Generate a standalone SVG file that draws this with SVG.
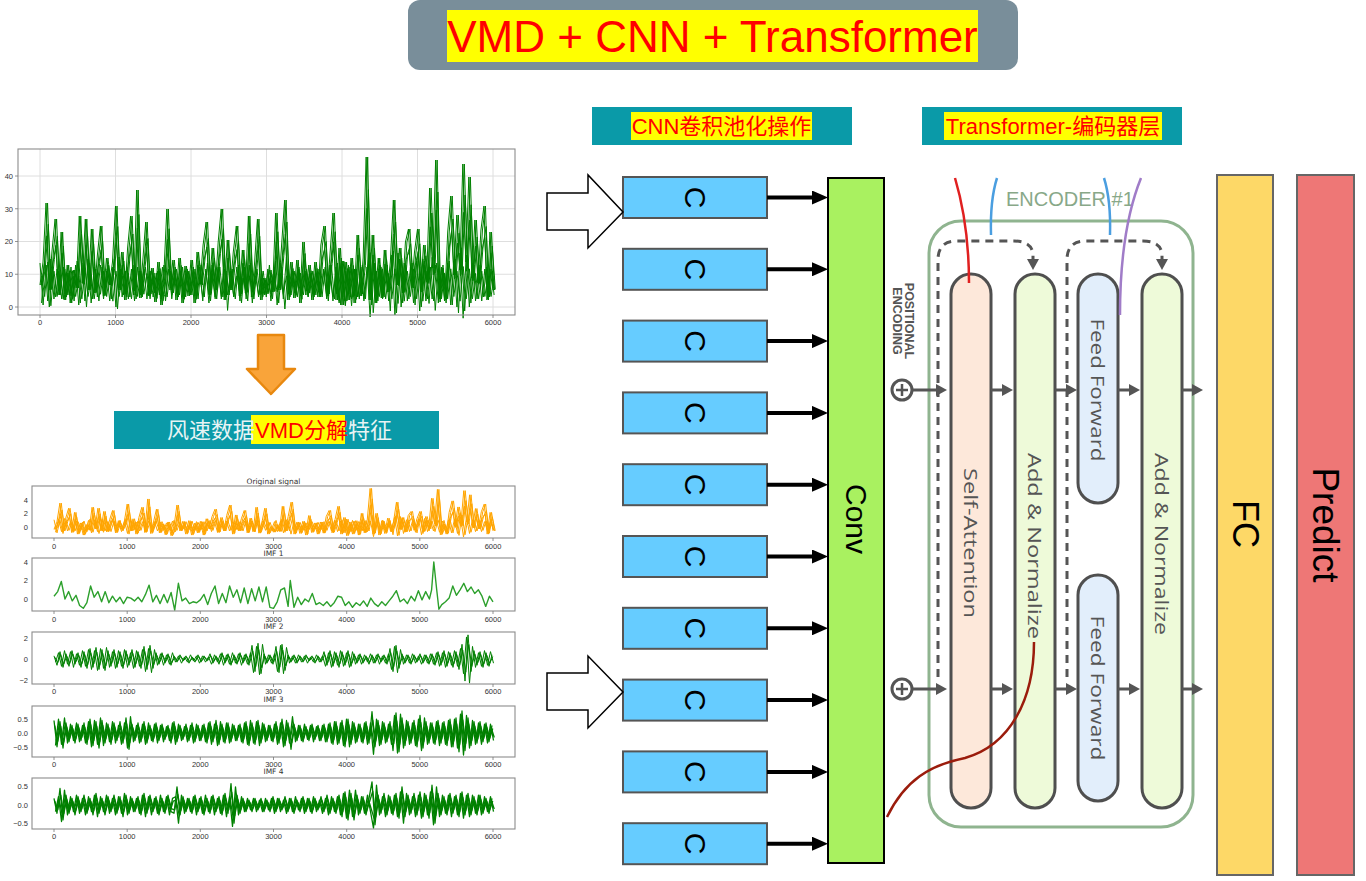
<svg xmlns="http://www.w3.org/2000/svg" width="1366" height="881" viewBox="0 0 1366 881">
<style>
text{font-family:"Liberation Sans","Noto Sans CJK SC",sans-serif}
.tk{font-family:"DejaVu Sans",sans-serif;font-size:7.5px;fill:#333}
.ax{fill:none;stroke:#8c8c8c;stroke-width:1.1}
.grid{stroke:#dedede;stroke-width:1;fill:none}
.tick{stroke:#777;stroke-width:0.8;fill:none}
.sig{fill:none;vector-effect:non-scaling-stroke;stroke-linejoin:round}
.hdr{fill:#0a9aa8}
.hl{fill:#ffff00}
.cbox{fill:#66ccff;stroke:#555;stroke-width:2}
.rot{text-anchor:middle;dominant-baseline:central;fill:#000}
.conn{stroke:#000;stroke-width:4;fill:none}
.hollow{fill:#fff;stroke:#000;stroke-width:1.5}
.pill{stroke:#4f4f4f;stroke-width:3}
.plabel{font-family:"Open Sans","Noto Sans",sans-serif;font-size:19px;fill:#555;text-anchor:middle;dominant-baseline:central}
.garr{stroke:#555;stroke-width:3;fill:none}
.dash{stroke:#555;stroke-width:3;fill:none;stroke-dasharray:8 6}
</style>
<defs>
<marker id="ah" markerUnits="userSpaceOnUse" viewBox="0 0 16 14" markerWidth="16" markerHeight="14" refX="6" refY="7" orient="auto"><path d="M0,0 L16,7 L0,14 z" fill="#000"/></marker>
<marker id="gh" markerUnits="userSpaceOnUse" viewBox="0 0 11 12" markerWidth="11" markerHeight="12" refX="3" refY="6" orient="auto"><path d="M0,0 L11,6 L0,12 z" fill="#555"/></marker>
<polyline id="wind" class="sig" points="40,285 43,262 46,203 49,290 52,250 55,219 58,295 61,232 64,300 67,265 70,303 73,270 76,288 79,216 82,283 85,219 88,290 91,229 94,293 97,255 100,226 103,296 106,258 109,285 112,262 115,206 118,290 121,252 124,300 127,248 130,216 133,295 136,190 139,298 142,262 145,222 148,296 151,268 154,302 157,262 160,305 163,275 166,209 169,290 172,260 175,300 178,258 181,303 184,266 187,296 190,260 193,303 196,252 199,284 202,245 205,222 208,295 211,248 214,290 217,242 220,209 223,300 226,240 229,290 232,252 235,226 238,296 241,250 244,293 247,216 250,297 253,265 256,219 259,300 262,278 265,294 268,270 271,292 274,213 277,290 280,245 283,200 286,300 289,262 292,298 295,260 298,303 301,242 304,295 307,265 310,300 313,262 316,297 319,245 322,226 325,296 328,255 331,213 334,300 337,248 340,305 343,262 346,300 349,258 352,303 355,235 358,296 361,258 364,157 367,300 370,235 373,303 376,258 379,298 382,250 385,292 388,262 391,200 394,285 397,248 400,293 403,242 406,229 409,288 412,252 415,229 418,292 421,245 424,282 427,188 430,268 433,160 436,302 439,268 442,300 445,232 448,196 451,275 454,215 457,270 460,164 463,262 466,177 469,278 472,220 475,283 478,230 481,206 484,300 487,232 490,290"/>
<polyline id="n3" class="sig" transform="translate(54,733) scale(3,-0.25)" points="0,50 1,-55 2,45 3,-60 4,40 5,-35 6,30 7,-40 8,35 9,-30 10,40 11,-45 12,55 13,-50 14,45 15,-60 16,50 17,-40 18,35 19,-45 20,40 21,-30 22,45 23,-40 24,60 25,-65 26,35 27,-30 28,40 29,-35 30,45 31,-40 32,30 33,-35 34,40 35,-30 36,35 37,-25 38,30 39,-40 40,45 41,-35 42,30 43,-25 44,35 45,-30 46,40 47,-35 48,30 49,-30 50,35 51,-40 52,45 53,-35 54,50 55,-45 56,35 57,-40 58,40 59,-35 60,30 61,-30 62,35 63,-40 64,45 65,-50 66,40 67,-45 68,50 69,-40 70,35 71,-30 72,30 73,-35 74,45 75,-40 76,55 77,-50 78,40 79,-65 80,35 81,-30 82,30 83,-35 84,25 85,-30 86,35 87,-25 88,30 89,-30 90,35 91,-35 92,40 93,-45 94,45 95,-40 96,50 97,-55 98,55 99,-45 100,40 101,-35 102,35 103,-40 104,45 105,-40 106,85 107,-55 108,50 109,-45 110,40 111,-35 112,45 113,-70 114,80 115,-75 116,60 117,-50 118,45 119,-40 120,50 121,-55 122,70 123,-60 124,45 125,-40 126,40 127,-45 128,50 129,-40 130,45 131,-50 132,55 133,-55 134,60 135,-75 136,88 137,-70 138,60 139,-50 140,45 141,-40 142,45 143,-35 144,40 145,-35 146,30"/>
<polyline id="n4" class="sig" transform="translate(54,805) scale(3,-0.33)" points="0,20 1,-25 2,50 3,-45 4,30 5,-25 6,20 7,-30 8,25 9,-20 10,30 11,-25 12,20 13,-30 14,35 15,-25 16,20 17,-30 18,25 19,-20 20,30 21,-25 22,25 23,-35 24,30 25,-25 26,20 27,-20 28,25 29,-30 30,35 31,-25 32,30 33,-20 34,25 35,-30 36,20 37,-25 38,30 39,-20 40,-25 41,55 42,-30 43,25 44,-20 45,20 46,-25 47,30 48,-20 49,25 50,-30 51,20 52,-25 53,30 54,-20 55,25 56,-30 57,35 58,-25 59,65 60,-55 61,30 62,-25 63,20 64,-20 65,15 66,-20 67,20 68,-15 69,20 70,-20 71,15 72,-20 73,25 74,-20 75,20 76,-15 77,25 78,-20 79,20 80,-25 81,15 82,-20 83,25 84,-20 85,20 86,-25 87,20 88,-15 89,25 90,-20 91,30 92,-25 93,20 94,-25 95,30 96,-35 97,40 98,-45 99,35 100,-45 101,30 102,-25 103,25 104,-30 105,20 106,70 107,-60 108,30 109,-25 110,35 111,-30 112,25 113,-30 114,35 115,-40 116,55 117,-35 118,30 119,-25 120,35 121,-30 122,40 123,-35 124,30 125,-40 126,60 127,-55 128,35 129,-30 130,25 131,-30 132,35 133,-25 134,30 135,-35 136,40 137,-30 138,35 139,-30 140,25 141,-30 142,30 143,-25 144,20 145,-25 146,20"/>
<g id="windset">
<use href="#wind"/>
<use href="#wind" transform="translate(1.5,0)"/>
<use href="#wind" transform="matrix(1,0,0,0.6,0.75,114)"/>
<use href="#wind" transform="matrix(1,0,0,0.75,2.25,72)"/>
</g>
<path id="xt" d="M54,0v3M127.2,0v3M200.3,0v3M273.5,0v3M346.7,0v3M419.8,0v3M493,0v3"/>
<g id="xl" class="tk" text-anchor="middle"><text x="54">0</text><text x="127.2">1000</text><text x="200.3">2000</text><text x="273.5">3000</text><text x="346.7">4000</text><text x="419.8">5000</text><text x="493">6000</text></g>
</defs>
<rect width="1366" height="881" fill="#fff"/>

<g id="title">
<rect x="408" y="0" width="610" height="70" rx="12" fill="#798e9a"/>
<rect x="447" y="10" width="531" height="52" class="hl"/>
<text x="712.5" y="52" font-size="44" fill="#ff0000" text-anchor="middle">VMD + CNN + Transformer</text>
</g>

<g id="header-cnn">
<rect x="592" y="107" width="260" height="38" class="hdr"/>
<rect x="631" y="112" width="181" height="28" class="hl"/>
<text x="721.5" y="134" font-size="22" fill="#ff0000" text-anchor="middle">CNN卷积池化操作</text>
</g>
<g id="header-transformer">
<rect x="922" y="107" width="260" height="38" class="hdr"/>
<rect x="944" y="112" width="218" height="28" class="hl"/>
<text x="1053" y="134" font-size="22" fill="#ff0000" text-anchor="middle">Transformer-编码器层</text>
</g>

<g id="wind-chart">
<path class="grid" d="M40,149V315M115.5,149V315M191,149V315M266.5,149V315M342,149V315M417.5,149V315M493,149V315M18,307H515M18,274.25H515M18,241.5H515M18,208.75H515M18,176H515"/>
<g stroke="#008000" stroke-width="1">
<g transform="matrix(1.0333,0,0,1.6,-15.8,-889.8)"><use href="#n3"/><use href="#n3" transform="translate(1.5,1466) scale(1,-1)"/></g>
<g transform="matrix(1.0333,0,0,1.4,-15,-842)"><use href="#n4" transform="translate(0.75,0)"/></g>
<use href="#windset" transform="matrix(1.0067,0,0,1,-0.27,0)"/>
</g>
<rect x="18" y="149" width="497" height="166" class="ax"/>
<path class="tick" d="M40,315v3M115.5,315v3M191,315v3M266.5,315v3M342,315v3M417.5,315v3M493,315v3M18,307h-3M18,274.25h-3M18,241.5h-3M18,208.75h-3M18,176h-3"/>
<g class="tk" text-anchor="middle"><text x="40" y="325">0</text><text x="115.5" y="325">1000</text><text x="191" y="325">2000</text><text x="266.5" y="325">3000</text><text x="342" y="325">4000</text><text x="417.5" y="325">5000</text><text x="493" y="325">6000</text></g>
<g class="tk" text-anchor="end"><text x="13" y="309.7">0</text><text x="13" y="277">10</text><text x="13" y="244.2">20</text><text x="13" y="211.5">30</text><text x="13" y="178.7">40</text></g>
</g>

<g id="down-arrow">
<polygon points="258,335 284,335 284,369 295,369 271,394 247,369 258,369" fill="#f9a43a" stroke="#e8880f" stroke-width="2.5" stroke-linejoin="round"/>
</g>

<g id="vmd-label">
<rect x="114" y="411" width="325" height="38" class="hdr"/>
<rect x="251" y="415" width="94" height="29" class="hl"/>
<text x="167" y="438" font-size="22"><tspan fill="#e8f4f4">风速数据</tspan><tspan fill="#ff0000">VMD分解</tspan><tspan fill="#e8f4f4">特征</tspan></text>
</g>

<g id="vmd-chart">
<!-- subplot 1 -->
<text class="tk" x="273.5" y="484.4" text-anchor="middle">Original signal</text>
<g stroke="#ffa500" stroke-width="1">
<g transform="matrix(1,0,0,0.5,0,159.5)"><use href="#n3"/><use href="#n3" transform="translate(1.5,1466) scale(1,-1)"/></g>
<use href="#windset" transform="matrix(0.9756,0,0,0.3195,14.98,438.26)"/>
</g>
<rect x="32" y="486" width="483" height="52" class="ax"/>
<use href="#xt" class="tick" y="538"/>
<use href="#xl" y="549.4"/>
<g class="tk" text-anchor="end"><text x="28" y="502.7">4</text><text x="28" y="516.2">2</text><text x="28" y="529.7">0</text></g>
<!-- subplot 2 -->
<text class="tk" x="273.5" y="556" text-anchor="middle">IMF 1</text>
<polyline class="sig" stroke="#2ca02c" stroke-width="1.4" points="54,596.2 57.7,591.6 61.3,581.4 65,599 68.6,591.6 72.3,600.9 76,595.3 79.6,605.5 83.3,608.3 86.9,602.7 90.6,586 94.2,597.2 97.9,591.6 101.6,601.8 105.2,591.6 108.9,602.7 112.5,596.2 116.2,601.8 119.9,597.2 123.5,603.6 127.2,597.2 130.8,598.1 134.5,600.9 138.1,597.2 141.8,601.8 145.5,594.4 149.1,585.1 152.8,601.8 156.4,595.3 160.1,603.6 163.8,594.4 167.4,602.7 171.1,592.5 174.7,610.1 178.4,583.3 182,600.9 185.7,598.1 189.4,603.6 193,601.8 196.7,602.7 200.3,599.9 204,594.4 207.7,604.6 211.3,593.5 215,586 218.6,603.6 222.3,593.5 226,602.7 229.6,586 233.3,597.2 236.9,589.8 240.6,602.7 244.2,588 247.9,603.6 251.6,588.8 255.2,600.9 258.9,587 262.5,601.8 266.2,587 269.9,607.3 273.5,608.3 277.2,601.8 280.8,589.8 284.5,588 288.1,606.4 290.3,580.5 294,607.3 297.7,597.2 301.3,604.6 305,599 308.6,601.8 312.3,593.5 316,604.6 319.6,602.7 323.3,605.5 326.9,601.8 330.6,606.4 334.2,602.7 337.9,596.2 341.6,597.2 345.2,605.5 348.9,601.8 352.5,607.3 356.2,602.7 359.9,605.5 363.5,600.9 367.2,606.4 370.8,598.1 374.5,603.6 378.1,606.4 381.8,601.8 385.5,605.5 389.1,600.9 392.8,596.2 396.4,590.7 400.1,601.8 403.8,599 407.4,603.6 411.1,596.2 414.7,600.9 418.4,590.7 422,599.9 425.7,591.6 429.4,599 431.6,589.8 433.8,562 436.7,589.8 438.9,609.2 441.8,604.6 445.5,601.8 449.1,598.1 452.8,586 456.4,595.3 460.1,589.8 463.8,583.3 467.4,591.6 471.1,587 474.7,593.5 478.4,589.8 482,596.2 485.7,606.4 489.4,596.2 493,601.8"/>
<rect x="32" y="558" width="483" height="53" class="ax"/>
<use href="#xt" class="tick" y="611"/>
<use href="#xl" y="621.7"/>
<g class="tk" text-anchor="end"><text x="28" y="564.7">4</text><text x="28" y="583.2">2</text><text x="28" y="601.7">0</text></g>
<!-- subplot 3 -->
<text class="tk" x="273.5" y="629.4" text-anchor="middle">IMF 2</text>
<polyline id="imf2" class="sig" stroke="#008000" stroke-width="1" transform="translate(54,659) scale(3,-1.05)" points="0,3 1,-6 2,7 3,-8 4,5 5,-7 6,8 7,-5 8,6 9,-8 10,7 11,-9 12,10 13,-8 14,11 15,-10 16,9 17,-11 18,8 19,-7 20,9 21,-8 22,7 23,-9 24,8 25,-6 26,9 27,-8 28,7 29,-9 30,12 31,-10 32,13 33,-9 34,6 35,-5 36,6 37,-4 38,5 39,-6 40,3 41,-3 42,4 43,-2 44,3 45,-4 46,2 47,-3 48,4 49,-3 50,3 51,-2 52,5 53,-4 54,3 55,-5 56,6 57,-4 58,5 59,-6 60,4 61,-5 62,6 63,-4 64,5 65,-6 66,13 67,-12 68,15 69,-14 70,5 71,-4 72,4 73,-5 74,12 75,-13 76,14 77,-11 78,4 79,-3 80,4 81,-4 82,3 83,-3 84,4 85,-2 86,3 87,-4 88,3 89,-3 90,7 91,-6 92,8 93,-7 94,6 95,-8 96,7 97,-6 98,8 99,-7 100,5 101,-4 102,5 103,-4 104,3 105,-5 106,4 107,-4 108,5 109,-3 110,4 111,-5 112,10 113,-12 114,13 115,-9 116,5 117,-4 118,4 119,-5 120,4 121,-3 122,5 123,-4 124,4 125,-5 126,5 127,-6 128,7 129,-6 130,8 131,-7 132,6 133,-8 134,7 135,-10 136,14 137,-21 138,23 139,-12 140,8 141,-6 142,7 143,-8 144,6 145,-7 146,4"/>
<use href="#imf2" transform="translate(1.5,1318) scale(1,-1)"/>
<use href="#imf2" transform="translate(0.75,263.6) scale(1,0.6)"/>
<rect x="32" y="632" width="483" height="52" class="ax"/>
<use href="#xt" class="tick" y="684"/>
<use href="#xl" y="694.4"/>
<g class="tk" text-anchor="end"><text x="28" y="640.7">2</text><text x="28" y="661.7">0</text><text x="28" y="682.7">−2</text></g>
<!-- subplot 4 -->
<text class="tk" x="273.5" y="702" text-anchor="middle">IMF 3</text>
<g stroke="#008000" stroke-width="1.3">
<use href="#n3"/>
<use href="#n3" transform="translate(1.5,1466) scale(1,-1)"/>
<use href="#n3" transform="translate(0.75,293.2) scale(1,0.6)"/>
<use href="#n3" transform="translate(2.25,1172.8) scale(1,-0.6)"/>
</g>
<rect x="32" y="706" width="483" height="51" class="ax"/>
<use href="#xt" class="tick" y="757"/>
<use href="#xl" y="767"/>
<g class="tk" text-anchor="end"><text x="28" y="721.7">0.5</text><text x="28" y="735.7">0.0</text><text x="28" y="749.7">−0.5</text></g>
<!-- subplot 5 -->
<text class="tk" x="273.5" y="773.7" text-anchor="middle">IMF 4</text>
<g stroke="#008000" stroke-width="1.3">
<use href="#n4"/>
<use href="#n4" transform="translate(1.5,1610) scale(1,-1)"/>
<use href="#n4" transform="translate(0.75,322) scale(1,0.6)"/>
<use href="#n4" transform="translate(2.25,1288) scale(1,-0.6)"/>
</g>
<rect x="32" y="778" width="483" height="51" class="ax"/>
<use href="#xt" class="tick" y="829"/>
<use href="#xl" y="839.4"/>
<g class="tk" text-anchor="end"><text x="28" y="789.2">0.5</text><text x="28" y="807.7">0.0</text><text x="28" y="826.2">−0.5</text></g>
</g>

<g id="c1"><rect x="623" y="177" width="144" height="41" class="cbox"/><text class="rot" font-size="30" transform="translate(695,197.5) rotate(90)">C</text></g>
<g id="c2"><rect x="623" y="248.8" width="144" height="41" class="cbox"/><text class="rot" font-size="30" transform="translate(695,269.3) rotate(90)">C</text></g>
<g id="c3"><rect x="623" y="320.6" width="144" height="41" class="cbox"/><text class="rot" font-size="30" transform="translate(695,341.1) rotate(90)">C</text></g>
<g id="c4"><rect x="623" y="392.4" width="144" height="41" class="cbox"/><text class="rot" font-size="30" transform="translate(695,412.9) rotate(90)">C</text></g>
<g id="c5"><rect x="623" y="464.2" width="144" height="41" class="cbox"/><text class="rot" font-size="30" transform="translate(695,484.7) rotate(90)">C</text></g>
<g id="c6"><rect x="623" y="536" width="144" height="41" class="cbox"/><text class="rot" font-size="30" transform="translate(695,556.5) rotate(90)">C</text></g>
<g id="c7"><rect x="623" y="607.8" width="144" height="41" class="cbox"/><text class="rot" font-size="30" transform="translate(695,628.3) rotate(90)">C</text></g>
<g id="c8"><rect x="623" y="679.6" width="144" height="41" class="cbox"/><text class="rot" font-size="30" transform="translate(695,700.1) rotate(90)">C</text></g>
<g id="c9"><rect x="623" y="751.4" width="144" height="41" class="cbox"/><text class="rot" font-size="30" transform="translate(695,771.9) rotate(90)">C</text></g>
<g id="c10"><rect x="623" y="823.2" width="144" height="41" class="cbox"/><text class="rot" font-size="30" transform="translate(695,843.7) rotate(90)">C</text></g>

<g id="conv">
<rect x="828" y="178" width="56" height="685" fill="#a9f160" stroke="#000" stroke-width="2"/>
<text class="rot" font-size="30" transform="translate(856,519) rotate(90)">Conv</text>
</g>

<g id="encoder">
<rect x="929" y="221" width="264" height="606" rx="32" fill="none" stroke="#8fb48f" stroke-width="3"/>
<text x="1006" y="206" font-size="20" fill="#88a888" font-family="Open Sans, Noto Sans, sans-serif">ENCODER #1</text>
<g id="self-attention"><rect x="951" y="274" width="40" height="534" rx="20" fill="#fde8da" class="pill"/><text class="plabel" transform="translate(971,543) rotate(90)" textLength="150" lengthAdjust="spacingAndGlyphs">Self-Attention</text></g>
<g id="add-norm-1"><rect x="1015" y="274" width="40" height="534" rx="20" fill="#eefad9" class="pill"/><text class="plabel" transform="translate(1035,546) rotate(90)" textLength="186" lengthAdjust="spacingAndGlyphs">Add &amp; Normalize</text></g>
<g id="ffn-1"><rect x="1078" y="274" width="40" height="229" rx="20" fill="#e2eefb" class="pill"/><text class="plabel" transform="translate(1098,390) rotate(90)" textLength="143" lengthAdjust="spacingAndGlyphs">Feed Forward</text></g>
<g id="ffn-2"><rect x="1078" y="575" width="40" height="226" rx="20" fill="#e2eefb" class="pill"/><text class="plabel" transform="translate(1098,688) rotate(90)" textLength="145" lengthAdjust="spacingAndGlyphs">Feed Forward</text></g>
<g id="add-norm-2"><rect x="1142" y="274" width="40" height="534" rx="20" fill="#eefad9" class="pill"/><text class="plabel" transform="translate(1162,544) rotate(90)" textLength="182" lengthAdjust="spacingAndGlyphs">Add &amp; Normalize</text></g>
<g id="positional-encoding" fill="#555" font-family="Open Sans, Noto Sans, sans-serif" font-size="12.5" font-weight="bold" text-anchor="middle">
<text transform="translate(905,321) rotate(90)">POSITIONAL</text>
<text transform="translate(893,321) rotate(90)">ENCODING</text>
<circle cx="902" cy="390" r="10" fill="#fff" stroke="#555" stroke-width="3"/><path d="M896,390H908M902,384V396" stroke="#555" stroke-width="2.5"/>
<circle cx="902" cy="689" r="10" fill="#fff" stroke="#555" stroke-width="3"/><path d="M896,689H908M902,683V695" stroke="#555" stroke-width="2.5"/>
</g>
<path d="M955,178 Q969,225 969,283" fill="none" stroke="#e02020" stroke-width="2.5"/>
<path d="M997,178 Q990,200 991,235" fill="none" stroke="#4a9ee0" stroke-width="2.5"/>
<path d="M1104,178 Q1111,200 1110,235" fill="none" stroke="#4a9ee0" stroke-width="2.5"/>
<path d="M1141,178 Q1120,230 1120,315" fill="none" stroke="#a07cc8" stroke-width="2.5"/>
<path d="M1034,642 C1034,700 1010,745 965,758 C930,765 905,780 887,817" fill="none" stroke="#9b1c0c" stroke-width="2.5"/>
</g>

<g id="fc">
<rect x="1217" y="175" width="56" height="700" fill="#fdd867" stroke="#666" stroke-width="2"/>
<text class="rot" font-size="36" transform="translate(1245,524) rotate(90)">FC</text>
</g>
<g id="predict">
<rect x="1297" y="175" width="57" height="700" fill="#ee7776" stroke="#666" stroke-width="2"/>
<text class="rot" font-size="37" transform="translate(1325.5,525) rotate(90)">Predict</text>
</g>

<g id="connectors">
<polygon class="hollow" points="547,193 588,193 588,175 623,212 588,248 588,230 547,230"/>
<polygon class="hollow" points="547,673 588,673 588,656 623,692 588,728 588,710 547,710"/>
<line class="conn" x1="767" y1="197.5" x2="818" y2="197.5" marker-end="url(#ah)"/>
<line class="conn" x1="767" y1="269.3" x2="818" y2="269.3" marker-end="url(#ah)"/>
<line class="conn" x1="767" y1="341.1" x2="818" y2="341.1" marker-end="url(#ah)"/>
<line class="conn" x1="767" y1="412.9" x2="818" y2="412.9" marker-end="url(#ah)"/>
<line class="conn" x1="767" y1="484.7" x2="818" y2="484.7" marker-end="url(#ah)"/>
<line class="conn" x1="767" y1="556.5" x2="818" y2="556.5" marker-end="url(#ah)"/>
<line class="conn" x1="767" y1="628.3" x2="818" y2="628.3" marker-end="url(#ah)"/>
<line class="conn" x1="767" y1="700.1" x2="818" y2="700.1" marker-end="url(#ah)"/>
<line class="conn" x1="767" y1="771.9" x2="818" y2="771.9" marker-end="url(#ah)"/>
<line class="conn" x1="767" y1="843.7" x2="818" y2="843.7" marker-end="url(#ah)"/>
<path class="dash" d="M938,677 V260 Q938,241 957,241 H1014 Q1033,241 1033,256 V262" marker-end="url(#gh)"/>
<path class="dash" d="M1067,677 V260 Q1067,241 1086,241 H1143 Q1162,241 1162,256 V262" marker-end="url(#gh)"/>
<line class="garr" x1="912" y1="390" x2="939" y2="390" marker-end="url(#gh)"/>
<line class="garr" x1="991" y1="390" x2="1005" y2="390" marker-end="url(#gh)"/>
<line class="garr" x1="1055" y1="390" x2="1069" y2="390" marker-end="url(#gh)"/>
<line class="garr" x1="1118" y1="390" x2="1132" y2="390" marker-end="url(#gh)"/>
<line class="garr" x1="1182" y1="390" x2="1195" y2="390" marker-end="url(#gh)"/>
<line class="garr" x1="912" y1="689" x2="939" y2="689" marker-end="url(#gh)"/>
<line class="garr" x1="991" y1="689" x2="1005" y2="689" marker-end="url(#gh)"/>
<line class="garr" x1="1055" y1="689" x2="1069" y2="689" marker-end="url(#gh)"/>
<line class="garr" x1="1118" y1="689" x2="1132" y2="689" marker-end="url(#gh)"/>
<line class="garr" x1="1182" y1="689" x2="1195" y2="689" marker-end="url(#gh)"/>
</g>
</svg>
